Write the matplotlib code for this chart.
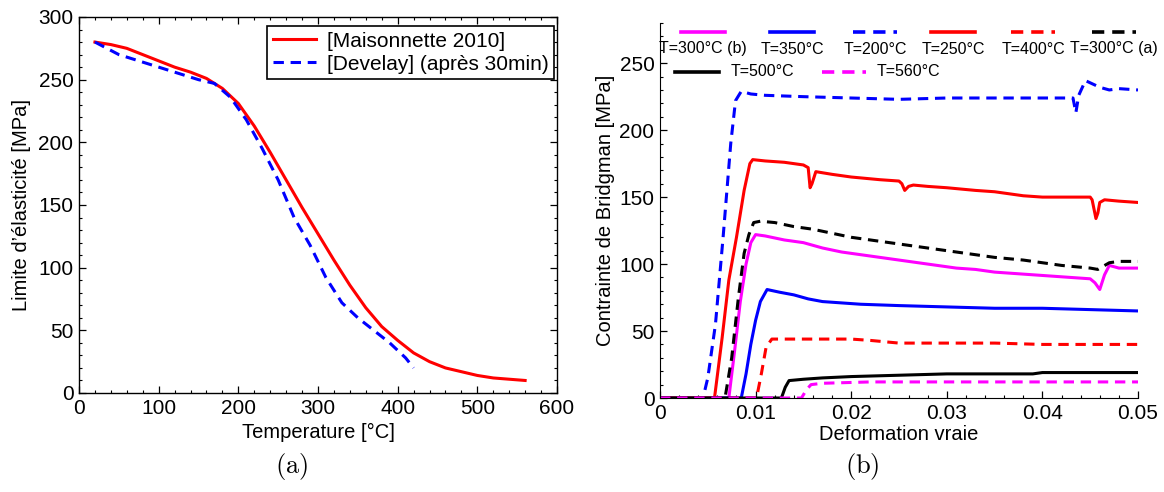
import numpy as np
import matplotlib
matplotlib.use('Agg')
import matplotlib.pyplot as plt
from matplotlib.ticker import MultipleLocator
from matplotlib.lines import Line2D

plt.rcParams['font.family'] = ['Liberation Sans', 'DejaVu Sans']
plt.rcParams['mathtext.fontset'] = 'cm'

# (a) yield strength vs temperature
mais_T = [20, 40, 60, 80, 100, 120, 140, 160, 180, 200, 220, 240, 260, 280, 300,
          320, 340, 360, 380, 400, 420, 440, 460, 480, 500, 520, 540, 560]
mais_Y = [280, 278, 275, 270, 265, 260, 256, 251, 243, 231, 213, 192, 170, 148, 127,
          106, 86, 68, 53, 42, 32, 25, 20, 17, 14, 12, 11, 10]
devel_T = [20, 50, 100, 150, 170, 190, 210, 230, 250, 270, 290, 310, 330, 350, 370, 390, 410, 420]
devel_Y = [280, 270, 260, 250, 247, 236, 218, 195, 170, 140, 118, 92, 72, 60, 50, 40, 28, 20]

# (b) Bridgman stress vs true strain
t300b_x = [0, 0.0072, 0.0078, 0.0084, 0.009, 0.0095, 0.01, 0.011, 0.013, 0.015, 0.017, 0.019,
           0.021, 0.023, 0.025, 0.027, 0.029, 0.031, 0.033, 0.035, 0.037, 0.039, 0.041, 0.043,
           0.045, 0.0455, 0.046, 0.0465, 0.047, 0.048, 0.05]
t300b_y = [0, 0, 35, 72, 100, 116, 122, 121, 118, 116, 112, 109, 107, 105, 103, 101, 99, 97,
           96, 94, 93, 92, 91, 90, 89, 86, 81, 92, 99, 97, 97]
t350_x = [0, 0.0085, 0.009, 0.0095, 0.01, 0.0105, 0.0112, 0.0125, 0.014, 0.0155, 0.017, 0.019,
          0.021, 0.025, 0.03, 0.035, 0.04, 0.045, 0.05]
t350_y = [0, 0, 18, 40, 58, 72, 81, 79, 77, 74, 72, 71, 70, 69, 68, 67, 67, 66, 65]
t200_x = [0, 0.0045, 0.005, 0.0058, 0.0066, 0.0074, 0.0079, 0.0085, 0.0095, 0.011, 0.015, 0.02,
          0.025, 0.03, 0.035, 0.04, 0.0432, 0.0435, 0.0438, 0.0445, 0.046, 0.047, 0.048, 0.05]
t200_y = [0, 0, 15, 55, 120, 190, 222, 229, 227, 226, 225, 224, 223, 224, 224, 224, 224, 213,
          226, 237, 232, 230, 231, 230]
t250_x = [0, 0.0057, 0.0065, 0.0072, 0.008, 0.0088, 0.0094, 0.0097, 0.011, 0.013, 0.015, 0.0155,
          0.0157, 0.0159, 0.0163, 0.018, 0.02, 0.023, 0.025, 0.0253, 0.0256, 0.026, 0.0265, 0.028,
          0.03, 0.033, 0.035, 0.038, 0.04, 0.045, 0.0452, 0.0456, 0.0458, 0.046, 0.0465, 0.048, 0.05]
t250_y = [0, 0, 45, 88, 120, 155, 175, 178, 177, 176, 174, 172, 157, 160, 169, 167, 165, 163,
          162, 160, 155, 158, 159, 158, 157, 155, 154, 151, 150, 150, 148, 134, 138, 146, 148, 147, 146]
t400_x = [0, 0.0101, 0.0106, 0.0111, 0.0117, 0.015, 0.02, 0.022, 0.025, 0.03, 0.035, 0.04, 0.05]
t400_y = [0, 0, 18, 38, 44, 44, 44, 43, 41, 41, 41, 40, 40]
t300a_x = [0, 0.0068, 0.0075, 0.0082, 0.0088, 0.0093, 0.0098, 0.0105, 0.012, 0.014, 0.016, 0.018,
           0.02, 0.024, 0.026, 0.028, 0.03, 0.032, 0.035, 0.038, 0.04, 0.042, 0.045, 0.0458,
           0.047, 0.048, 0.05]
t300a_y = [0, 0, 30, 75, 108, 122, 131, 132, 131, 128, 126, 123, 120, 116, 114, 112, 110, 108,
           105, 103, 101, 99, 97, 96, 101, 102, 102]
t500_x = [0, 0.0127, 0.0131, 0.0135, 0.015, 0.017, 0.02, 0.025, 0.03, 0.039, 0.04, 0.05]
t500_y = [0, 0, 8, 13, 14, 15, 16, 17, 18, 18, 19, 19]
t560_x = [0, 0.0148, 0.0153, 0.0158, 0.017, 0.022, 0.05]
t560_y = [0, 0, 6, 10, 11, 12, 12]

labels_b = ['T=300°C (b)', 'T=350°C', 'T=200°C', 'T=250°C', 'T=400°C', 'T=300°C (a)',
            'T=500°C', 'T=560°C']

fig = plt.figure(figsize=(11.64, 4.92), dpi=100)
W, H = 1164.0, 492.0


def px_axes(l, t, r, b):
    return fig.add_axes([l / W, 1 - b / H, (r - l) / W, (b - t) / H])


def style_ticks(ax):
    ax.tick_params(which='both', direction='in', labelsize=15, pad=4)
    ax.tick_params(which='major', length=5, width=0.9)
    ax.tick_params(which='minor', length=2.5, width=0.8)


# ---- panel (a)
ax1 = px_axes(79, 17, 557, 393)
ax1.plot(mais_T, mais_Y, color='red', lw=2.2, label='[Maisonnette 2010]')
ax1.plot(devel_T, devel_Y, color='blue', lw=2.2, ls=(0, (3.4, 2.2)), label='[Develay] (après 30min)')
ax1.set_xlim(0, 600)
ax1.set_ylim(0, 300)
ax1.xaxis.set_major_locator(MultipleLocator(100))
ax1.xaxis.set_minor_locator(MultipleLocator(20))
ax1.yaxis.set_major_locator(MultipleLocator(50))
ax1.yaxis.set_minor_locator(MultipleLocator(10))
style_ticks(ax1)
ax1.tick_params(which='both', top=True, right=True)
for s in ax1.spines.values():
    s.set_linewidth(1.0)
ax1.set_xlabel('Temperature [°C]', fontsize=14.5, labelpad=4)
ax1.set_ylabel('Limite d’élasticité [MPa]', fontsize=14.5, labelpad=5)
leg = ax1.legend(loc='upper right', bbox_to_anchor=(0.993, 0.975), fontsize=15, frameon=True,
                 fancybox=False, edgecolor='black', framealpha=1, handlelength=2.1,
                 handletextpad=0.5, borderpad=0.25, labelspacing=0.2, borderaxespad=0)
leg.get_frame().set_linewidth(1.2)

# ---- panel (b)
ax2 = px_axes(660, 23, 1138, 398)
series = [
    (t300b_x, t300b_y, 'magenta', '-'),
    (t350_x, t350_y, 'blue', '-'),
    (t200_x, t200_y, 'blue', '--'),
    (t250_x, t250_y, 'red', '-'),
    (t400_x, t400_y, 'red', '--'),
    (t300a_x, t300a_y, 'black', '--'),
    (t500_x, t500_y, 'black', '-'),
    (t560_x, t560_y, 'magenta', '--'),
]
dash = (0, (3.4, 2.2))
for (x, y, c, ls), lab in zip(series, labels_b):
    ax2.plot(x, y, color=c, lw=2.2, ls=dash if ls == '--' else '-', label=lab)
ax2.set_xlim(0, 0.05)
ax2.set_ylim(0, 280)
ax2.set_xticks(np.arange(0, 0.051, 0.01))
ax2.set_xticklabels(['0', '0.01', '0.02', '0.03', '0.04', '0.05'])
ax2.xaxis.set_minor_locator(MultipleLocator(0.002))
ax2.yaxis.set_major_locator(MultipleLocator(50))
ax2.yaxis.set_minor_locator(MultipleLocator(10))
style_ticks(ax2)
ax2.spines['top'].set_visible(False)
ax2.spines['right'].set_visible(False)
ax2.set_xlabel('Deformation vraie', fontsize=14.5, labelpad=2)
ax2.set_ylabel('Contrainte de Bridgman [MPa]', fontsize=14.5, labelpad=3)

# matlab-like legend: first row with line above centred label, second row classic
row1_cx = [703, 792, 875, 953, 1033, 1114]
for i, cx in enumerate(row1_cx):
    x, y, c, ls = series[i]
    fig.add_artist(Line2D([(cx - 22) / W, (cx + 22) / W], [1 - 32 / H, 1 - 32 / H],
                          color=c, lw=2.6, ls=dash if ls == '--' else '-'))
    fig.text(cx / W, 1 - 49 / H, labels_b[i], ha='center', va='center', fontsize=11.5)
for i, (hx, tx) in zip([6, 7], [(675, 731), (822, 877)]):
    x, y, c, ls = series[i]
    fig.add_artist(Line2D([hx / W, (hx + 44) / W], [1 - 72 / H, 1 - 72 / H],
                          color=c, lw=2.6, ls=dash if ls == '--' else '-'))
    fig.text(tx / W, 1 - 72 / H, labels_b[i], ha='left', va='center', fontsize=11.5)

fig.text(292 / W, 1 - 466 / H, r'$\mathrm{(a)}$', ha='center', va='center', fontsize=19)
fig.text(862 / W, 1 - 466 / H, r'$\mathrm{(b)}$', ha='center', va='center', fontsize=19)

fig.savefig('out.png', dpi=100)
